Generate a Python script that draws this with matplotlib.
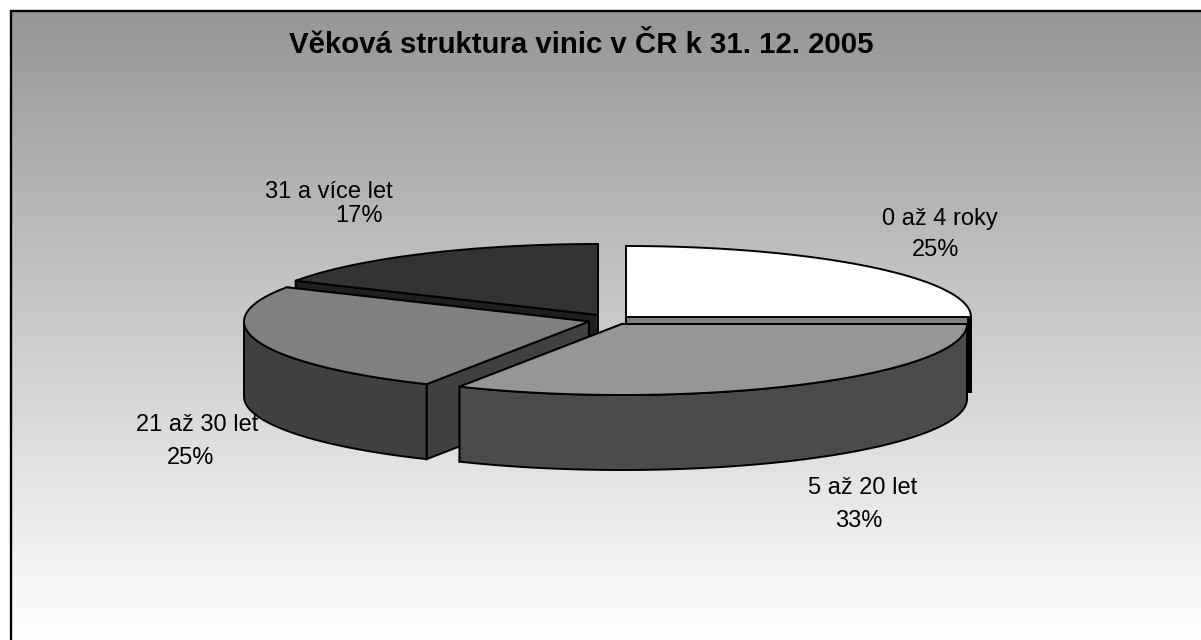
import numpy as np
import matplotlib
matplotlib.use("Agg")
import matplotlib.pyplot as plt
from matplotlib.colors import LinearSegmentedColormap
from matplotlib.patches import Polygon

title = "Věková struktura vinic v ČR k 31. 12. 2005"
categories = ["0 až 4 roky", "5 až 20 let", "21 až 30 let", "31 a více let"]
values = [25, 32.8, 25.2, 17]

top_colors = ["#ffffff", "#969696", "#808080", "#333333"]
side_colors = ["#808080", "#4b4b4b", "#404040", "#1f1f1f"]
apex = [(626, 317), (622, 324), (589, 321.5), (598, 315)]
label_pos = [[(940, 219.5), (936, 250)], [(863, 487.5), (859, 521)],
             [(197, 425), (191, 458)], [(329, 192), (359, 216)]]
draw_order = [3, 0, 2, 1]
RX, RY, DEPTH = 345, 71, 75
W, H = 1201, 640
LEFT, TOP = 11, 11

plt.rcParams["font.family"] = ["Liberation Sans", "DejaVu Sans"]
fig = plt.figure(figsize=(W / 100, H / 100), dpi=100, facecolor="white")
ax = fig.add_axes([0, 0, 1, 1])
ax.axis("off")

grad = np.linspace(0, 1, 256).reshape(-1, 1)
ax.imshow(grad, extent=(LEFT, W, H, TOP), aspect="auto", zorder=0,
          cmap=LinearSegmentedColormap.from_list("g", ["#969696", "#ffffff"]))
ax.set_xlim(0, W)
ax.set_ylim(H, 0)
ax.plot([LEFT, LEFT, W], [H, TOP, TOP], color="black", lw=1.7, zorder=1,
        solid_joinstyle="miter", solid_capstyle="butt")

shares = np.array(values, dtype=float) / sum(values)
ends = np.cumsum(shares) * 2 * np.pi
starts = ends - shares * 2 * np.pi


def rim(i, a, b, n=120):
    t = np.linspace(a, b, n)
    return apex[i][0] + RX * np.sin(t), apex[i][1] - RY * np.cos(t)


z = 2
for i in draw_order:
    cx, cy = apex[i]
    s, e = starts[i], ends[i]
    # radial cut faces, the one further back first
    for ang in sorted((s, e), key=lambda t: -np.cos(t)):
        x, y = rim(i, ang, ang, 1)
        ax.add_patch(Polygon([(cx, cy), (x[0], y[0]), (x[0], y[0] + DEPTH), (cx, cy + DEPTH)],
                             closed=True, fc=side_colors[i], ec="black", lw=1.4, zorder=z))
        z += 1
    # the first slice's end face is seen edge-on, as a black sliver
    if i == 0:
        x, y = rim(i, e, e, 1)
        ax.plot([x[0] - 2, x[0] - 2], [y[0], y[0] + DEPTH + 1], color="black", lw=2.9,
                solid_capstyle="butt", zorder=z)
        z += 1
    # front outer wall
    a = max(s, np.pi / 2)
    b = min(e, 3 * np.pi / 2)
    if b > a:
        x, y = rim(i, a, b)
        pts = np.vstack([np.c_[x, y], np.c_[x[::-1], y[::-1] + DEPTH]])
        ax.add_patch(Polygon(pts, closed=True, fc=side_colors[i], ec="black", lw=1.4, zorder=z))
        z += 1
    # top
    x, y = rim(i, s, e)
    pts = np.vstack([[(cx, cy)], np.c_[x, y]])
    ax.add_patch(Polygon(pts, closed=True, fc=top_colors[i], ec="black", lw=1.4, zorder=z))
    z += 1

ax.text(581, 45, title, ha="center", va="center", fontsize=21.2, fontweight="bold",
        color="black", zorder=50)
for cat, v, (p1, p2) in zip(categories, values, label_pos):
    ax.text(p1[0], p1[1], cat, ha="center", va="center", fontsize=17, color="black", zorder=50)
    ax.text(p2[0], p2[1], f"{round(v)}%", ha="center", va="center", fontsize=17, color="black", zorder=50)

fig.savefig("out.png", dpi=100)
